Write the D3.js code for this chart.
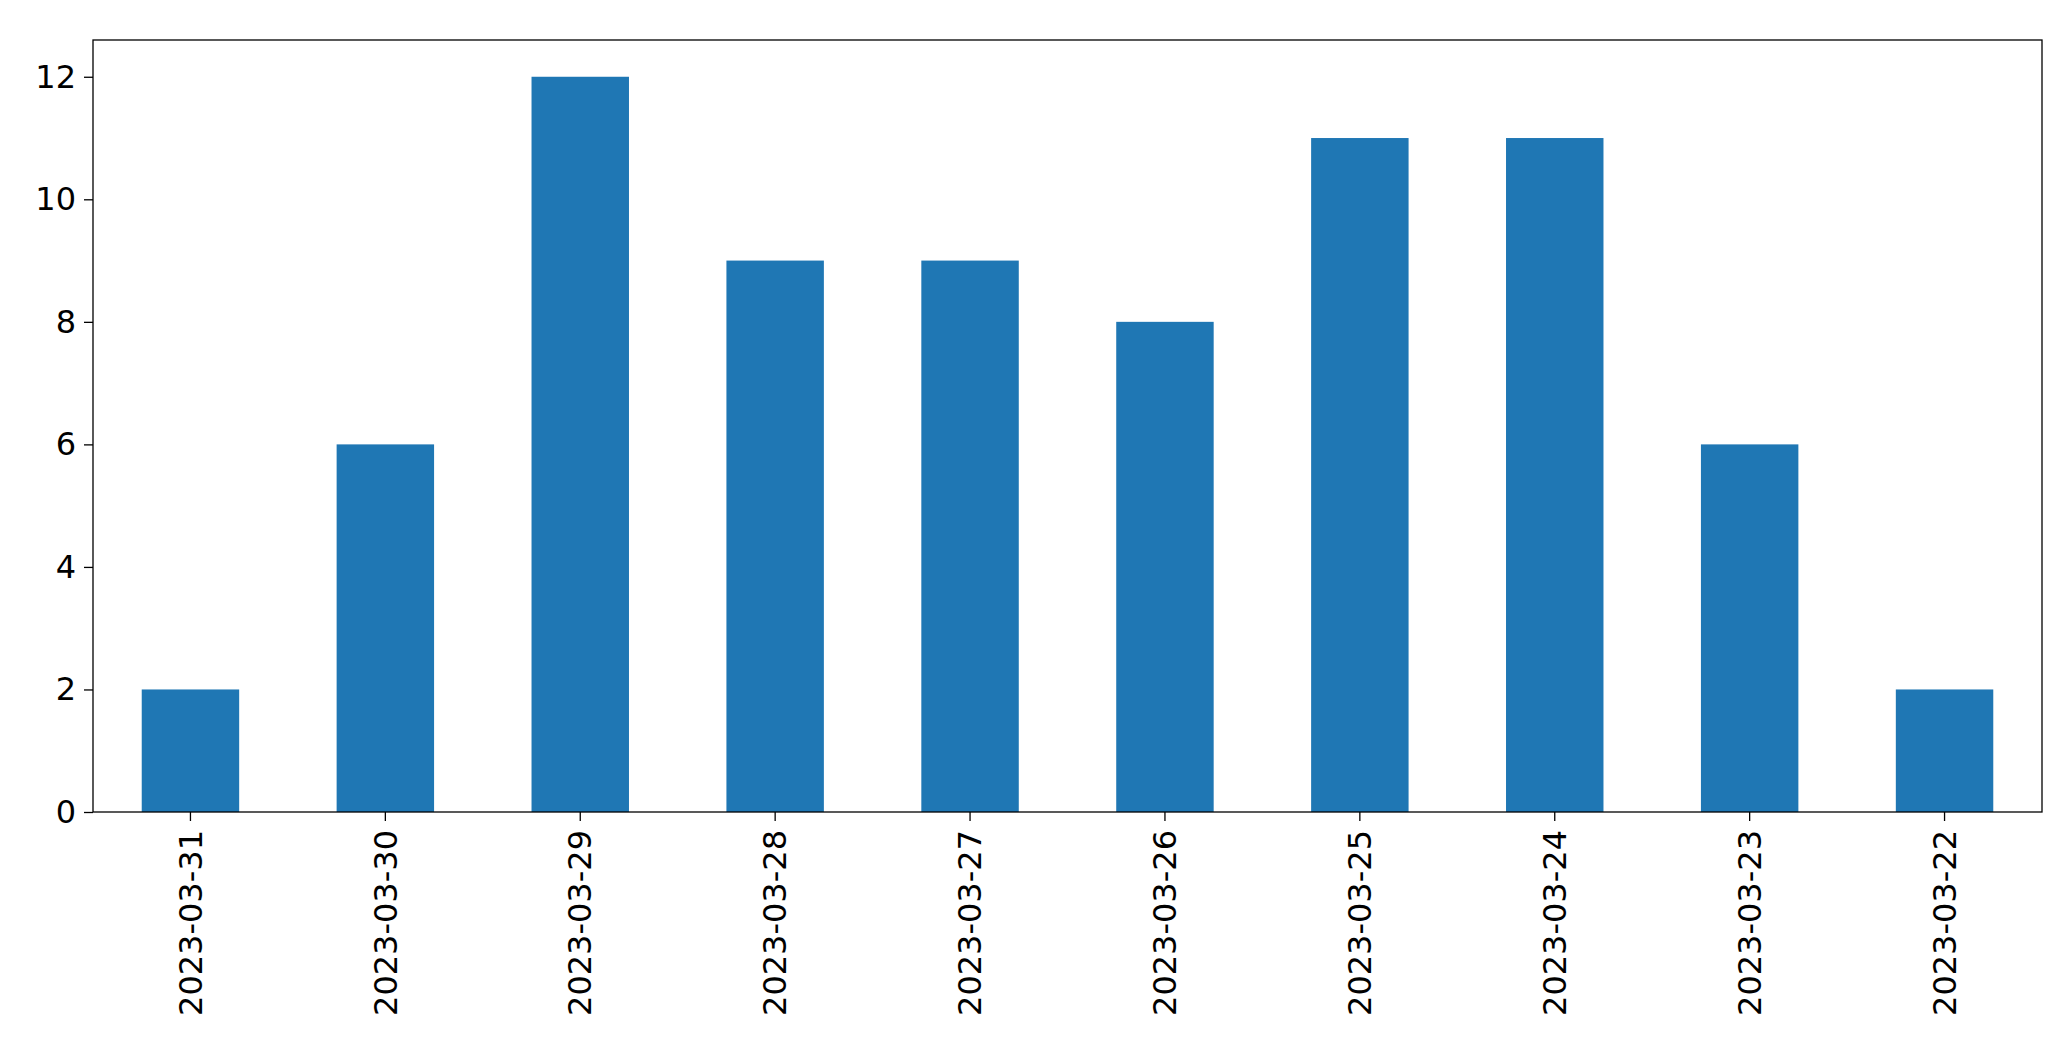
<!DOCTYPE html>
<html>
<head>
<meta charset="utf-8">
<script src="https://cdn.jsdelivr.net/npm/d3@7"></script>
<style>
  body { margin: 0; background: #fff; }
  text { font-family: "DejaVu Sans", sans-serif; }
</style>
</head>
<body>
<svg id="chart" width="2071" height="1061"></svg>
<script>
const dates = ["2023-03-31", "2023-03-30", "2023-03-29", "2023-03-28", "2023-03-27",
               "2023-03-26", "2023-03-25", "2023-03-24", "2023-03-23", "2023-03-22"];
const counts = [2, 6, 12, 9, 9, 8, 11, 11, 6, 2];
const yTicks = [0, 2, 4, 6, 8, 10, 12];

const svg = d3.select("#chart");
const plotLeft = 93, plotRight = 2042, plotTop = 40, plotBottom = 812;

let x = d3.scaleBand().domain(dates).range([plotLeft, plotRight]).paddingInner(0.5).paddingOuter(0.25);
let y = d3.scaleLinear().domain([0, 12.6]).range([plotBottom, plotTop]);

svg.selectAll("rect.bar")
  .data(dates)
  .enter().append("rect")
  .attr("class", "bar")
  .attr("x", d => x(d))
  .attr("y", (d, i) => y(counts[i]))
  .attr("width", x.bandwidth())
  .attr("height", (d, i) => y(0) - y(counts[i]))
  .attr("fill", "#1f77b4");

let xAxis = svg.append("g")
  .attr("transform", `translate(0,${plotBottom})`)
  .call(d3.axisBottom(x).tickSizeOuter(0).tickSize(9).tickPadding(8));
xAxis.selectAll("text")
  .attr("font-size", 32)
  .attr("fill", "#000")
  .attr("transform", "rotate(-90)")
  .attr("text-anchor", "end")
  .attr("dy", "0.35em")
  .attr("x", -18)
  .attr("y", 0);

let yAxis = svg.append("g")
  .attr("transform", `translate(${plotLeft},0)`)
  .call(d3.axisLeft(y).tickValues(yTicks).tickSizeOuter(0).tickSize(9).tickPadding(8));
yAxis.selectAll("text").attr("font-size", 32).attr("fill", "#000");
svg.selectAll(".domain").remove();
svg.selectAll(".tick line").attr("stroke", "#000").attr("stroke-width", 1.3);

svg.append("rect")
  .attr("x", plotLeft).attr("y", plotTop)
  .attr("width", plotRight - plotLeft).attr("height", plotBottom - plotTop)
  .attr("fill", "none").attr("stroke", "#000").attr("stroke-width", 1.3);
</script>
</body>
</html>
